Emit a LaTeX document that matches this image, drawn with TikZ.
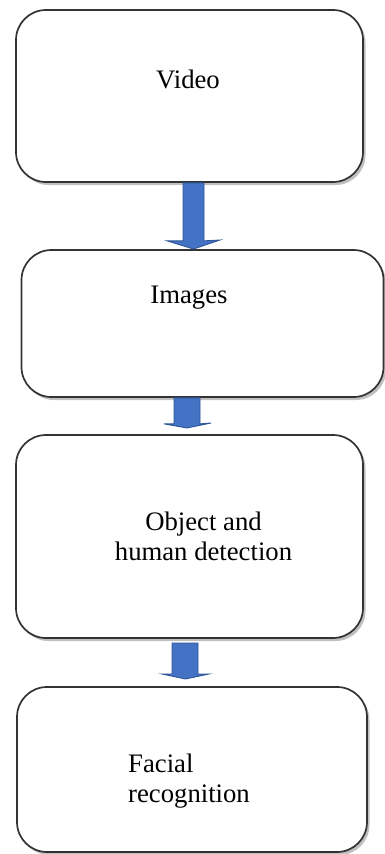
\documentclass[tikz,border=0pt]{standalone}
\usepackage{fontspec}
\setmainfont{Liberation Serif}
\usetikzlibrary{shadows}
\definecolor{arrowblue}{HTML}{4472C4}
\definecolor{arrowedge}{HTML}{2F5597}
\definecolor{boxedge}{HTML}{333333}
\tikzset{
  procbox/.style={draw=boxedge, line width=1.7pt, fill=white, rounded corners=30pt,
    inner sep=0pt, drop shadow={shadow xshift=2.5pt, shadow yshift=-3pt, opacity=0.45, fill=black!55}},
  label/.style={font=\fontsize{26.7}{30}\selectfont, inner sep=0pt},
  blockarrow/.style={fill=arrowblue, draw=arrowedge, line width=0.9pt, line join=miter}
}
\begin{document}
\begin{tikzpicture}[x=1pt,y=-1pt]
\useasboundingbox (0,0) rectangle (384,854);
% boxes
\node[procbox, minimum width=347pt, minimum height=172pt] (b1) at (189.5,96) {};
\node[procbox, minimum width=362pt, minimum height=147pt] (b2) at (202.5,323.5) {};
\node[procbox, minimum width=347pt, minimum height=203pt] (b3) at (189.5,536.5) {};
\node[procbox, minimum width=350pt, minimum height=165pt] (b4) at (192,769.5) {};
% texts
\node[label, anchor=base] (t1) at (188,88) {Video};
\node[label, anchor=base] (t2) at (189,303) {Images};
\node[label, align=center, anchor=center] (t3) at (203.5,536) {Object and\\human detection};
\node[label, align=left, anchor=west] (t4) at (128,781) {Facial\\recognition};
% arrows
\coordinate (a1) at (193.5,0 |- b1.south);
\coordinate (a2) at (187,0 |- b2.south);
\coordinate (a3) at (185.5,0 |- b3.south);
\draw[blockarrow] ([xshift=-10.5pt]a1) -- ++(0,58) -- ++(-16,0) -- (193.5,249) -- (220,240) -- ([xshift=10.5pt,yshift=-58pt]a1) -- ([xshift=10.5pt]a1) -- cycle;
\draw[blockarrow] ([xshift=-13pt]a2) -- ++(0,26) -- ++(-10,0) -- (187,428) -- (211,423) -- ([xshift=13pt,yshift=-26pt]a2) -- ([xshift=13pt]a2) -- cycle;
\draw[blockarrow] (172,643) -- (172,674) -- (162,674) -- (185.5,679) -- (209,674) -- (198,674) -- (198,643) -- cycle;
\end{tikzpicture}
\end{document}
